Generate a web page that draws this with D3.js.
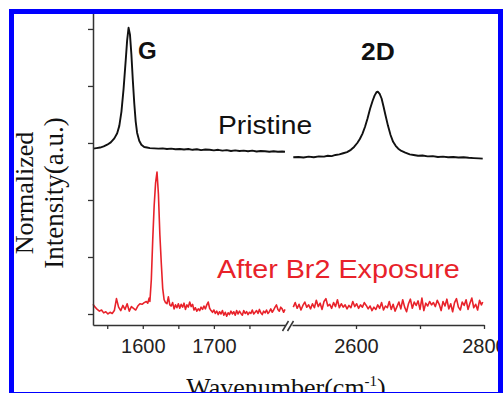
<!DOCTYPE html>
<html>
<head>
<meta charset="utf-8">
<script src="https://cdn.jsdelivr.net/npm/d3@7"></script>
<style>
  body { margin: 0; background: #fff; }
  svg { display: block; }
</style>
</head>
<body>
<div id="chart"></div>
<script>
// spectra, [wavenumber, normalized intensity]
var pristineLow = [
  [1530,2.90],[1535,2.91],[1540,2.92],[1545,2.94],[1550,2.97],[1555,3.01],[1560,3.08],
  [1564,3.17],[1567,3.30],[1570,3.55],[1573,3.95],[1576,4.45],[1578,4.80],[1580,5.02],
  [1582,4.90],[1584,4.55],[1586,4.10],[1588,3.70],[1590,3.38],[1592,3.18],[1595,3.04],
  [1598,2.97],[1602,2.93],[1606,2.92],[1610,2.91],[1616,2.905],[1622,2.90],[1628,2.905],
  [1634,2.895],[1640,2.90],[1646,2.89],[1652,2.895],[1658,2.885],[1664,2.895],[1670,2.88],
  [1676,2.89],[1682,2.875],[1688,2.885],[1694,2.88],[1700,2.87],[1706,2.88],[1712,2.865],
  [1718,2.875],[1724,2.86],[1730,2.87],[1736,2.86],[1742,2.865],[1748,2.855],[1754,2.865],
  [1760,2.85],[1766,2.86],[1772,2.855],[1778,2.845],[1784,2.855],[1790,2.845],[1796,2.85],
  [1800,2.845]
];
var pristineHigh = [
  [2502,2.75],[2510,2.755],[2518,2.745],[2526,2.76],[2534,2.75],[2542,2.765],[2550,2.76],
  [2556,2.775],[2562,2.77],[2568,2.79],[2574,2.80],[2580,2.82],[2586,2.84],[2592,2.88],
  [2597,2.93],[2602,3.00],[2606,3.07],[2610,3.16],[2614,3.28],[2618,3.43],[2622,3.60],
  [2626,3.74],[2629,3.83],[2632,3.89],[2634,3.90],[2637,3.86],[2640,3.78],[2643,3.64],
  [2646,3.49],[2650,3.30],[2654,3.14],[2658,3.02],[2662,2.95],[2666,2.90],[2671,2.86],
  [2677,2.83],[2684,2.80],[2690,2.79],[2697,2.775],[2704,2.78],[2712,2.765],[2720,2.77],
  [2728,2.755],[2736,2.76],[2744,2.75],[2752,2.755],[2760,2.745],[2768,2.75],[2776,2.74],
  [2784,2.735],[2792,2.73],[2798,2.725]
];
var brominatedLow = [
  [1530,0.17],[1533,0.12],[1536,0.08],[1539,0.05],[1542,0.07],[1545,0.02],[1548,0.04],
  [1551,0.00],[1554,0.03],[1557,0.01],[1560,0.06],[1563,0.27],[1566,0.12],[1569,0.06],
  [1572,0.15],[1575,0.08],[1578,0.18],[1581,0.05],[1584,0.13],[1587,0.10],[1590,0.07],
  [1593,0.14],[1596,0.18],[1599,0.17],[1602,0.20],[1605,0.22],[1607,0.19],[1609,0.28],
  [1610,0.22],[1612,0.60],[1614,1.30],[1616,1.90],[1618,2.30],[1620,2.49],[1622,2.10],
  [1624,1.40],[1626,0.90],[1628,0.45],[1630,0.25],[1632,0.20],[1634,0.18],[1636,0.30],
  [1638,0.16],[1640,0.14],[1642,0.20],[1644,0.09],[1646,0.16],[1648,0.11],[1650,0.18],
  [1652,0.10],[1654,0.17],[1656,0.12],[1658,0.19],[1660,0.08],[1662,0.16],[1664,0.12],
  [1666,0.21],[1668,0.13],[1670,0.17],[1672,0.07],[1674,0.11],[1676,0.05],[1678,0.09],
  [1680,0.06],[1682,0.12],[1684,0.08],[1686,0.14],[1688,0.09],[1690,0.16],[1692,0.21],
  [1694,0.10],[1696,0.06],[1698,0.03],[1700,0.07],[1702,0.01],[1704,0.05],[1706,-0.01],
  [1708,0.04],[1710,0.00],[1712,0.06],[1714,-0.02],[1716,0.03],[1718,-0.04],[1720,0.02],
  [1722,-0.01],[1724,0.05],[1726,0.00],[1728,0.04],[1730,-0.02],[1732,0.06],[1734,0.00],
  [1736,0.05],[1738,0.01],[1740,-0.02],[1742,0.06],[1744,0.01],[1746,0.04],[1748,-0.01],
  [1750,0.03],[1752,0.01],[1754,0.07],[1756,0.00],[1758,0.03],[1760,0.06],[1762,0.01],
  [1764,0.08],[1766,0.02],[1768,-0.01],[1770,0.05],[1772,0.02],[1774,0.07],[1776,0.01],
  [1778,0.04],[1780,0.09],[1782,0.03],[1784,0.07],[1786,0.12],[1788,0.16],[1790,0.08],
  [1792,0.05],[1794,0.12],[1796,0.09],[1798,0.03],[1800,0.08]
];
var brominatedHigh = [
  [2502,0.12],[2505,0.20],[2508,0.10],[2511,0.17],[2514,0.07],[2517,0.15],[2520,0.21],
  [2523,0.12],[2526,0.16],[2529,0.09],[2532,0.18],[2535,0.11],[2538,0.24],[2541,0.13],
  [2544,0.19],[2547,0.08],[2550,0.22],[2553,0.27],[2556,0.14],[2559,0.17],[2562,0.10],
  [2565,0.20],[2568,0.13],[2571,0.25],[2574,0.11],[2577,0.18],[2580,0.12],[2583,0.16],
  [2586,0.09],[2589,0.15],[2592,0.11],[2595,0.22],[2598,0.13],[2601,0.18],[2604,0.10],
  [2607,0.16],[2610,0.12],[2613,0.20],[2616,0.15],[2619,0.09],[2622,0.14],[2625,0.06],
  [2628,0.12],[2631,0.08],[2634,0.16],[2637,0.10],[2640,0.20],[2643,0.07],[2646,0.14],
  [2649,0.11],[2652,0.22],[2655,0.08],[2658,0.17],[2661,0.05],[2664,0.13],[2667,0.21],
  [2670,0.09],[2673,0.25],[2676,0.12],[2679,0.04],[2682,0.18],[2685,0.26],[2688,0.10],
  [2691,0.21],[2694,0.15],[2697,0.23],[2700,0.08],[2703,0.28],[2706,0.06],[2709,0.19],
  [2712,0.14],[2715,0.22],[2718,0.16],[2721,0.20],[2724,0.13],[2727,0.24],[2730,0.17],
  [2733,0.06],[2736,0.22],[2739,0.14],[2742,0.26],[2745,0.09],[2748,0.18],[2751,0.04],
  [2754,0.20],[2757,0.27],[2760,0.12],[2763,0.07],[2766,0.21],[2769,0.15],[2772,0.25],
  [2775,0.08],[2778,0.19],[2781,0.28],[2784,0.11],[2787,0.17],[2790,0.07],[2793,0.24],
  [2796,0.16],[2798,0.21]
];

// axis ticks
var lowTicks = [1550, 1600, 1650, 1700, 1750];
var lowLabels = [1600, 1700];
var highTicks = [2600, 2700, 2800];
var highLabels = [2600, 2800];
var yTicks = [0, 1, 2, 3, 4, 5];

var W = 503, H = 393;
var sansFont = 'Arial, "Liberation Sans", Helvetica, sans-serif';
var serifFont = '"Times New Roman", "Liberation Serif", serif';
var black = '#111', red = '#e8222a', axisColor = '#333';

var svg = d3.select('#chart').append('svg')
  .attr('width', W)
  .attr('height', H);

svg.append('rect').attr('width', W).attr('height', H).attr('fill', '#fff');

// broken x axis: two segments with their own scales
var xLow = d3.scaleLinear().domain([1530, 1800]).range([93, 285]);
var xHigh = d3.scaleLinear().domain([2500, 2800]).range([292, 484]);
var y = d3.scaleLinear().domain([-0.193, 5.35]).range([325, 9]);
var axisY = y.range()[0];

function drawSpectrum(data, x, color, width) {
  var line = d3.line()
    .x(function(d) { return x(d[0]); })
    .y(function(d) { return y(d[1]); });
  svg.append('path')
    .datum(data)
    .attr('fill', 'none')
    .attr('stroke', color)
    .attr('stroke-width', width)
    .attr('stroke-linejoin', 'round')
    .attr('d', line);
}

drawSpectrum(brominatedLow, xLow, red, 1.6);
drawSpectrum(brominatedHigh, xHigh, red, 1.6);
drawSpectrum(pristineLow, xLow, black, 1.9);
drawSpectrum(pristineHigh, xHigh, black, 1.9);

function styleAxis(g) {
  g.attr('font-family', sansFont).attr('font-size', 20);
  g.select('.domain').attr('stroke', axisColor).attr('stroke-width', 1.5);
  g.selectAll('.tick line').attr('stroke', axisColor).attr('stroke-width', 1.3);
  g.selectAll('.tick text').attr('fill', '#222');
}

svg.append('g')
  .attr('transform', 'translate(0,' + axisY + ')')
  .call(d3.axisBottom(xLow).tickValues(lowTicks).tickSize(4).tickSizeOuter(0).tickPadding(10)
    .tickFormat(function(d) { return lowLabels.indexOf(d) >= 0 ? d : ''; }))
  .call(styleAxis);

svg.append('g')
  .attr('transform', 'translate(0,' + axisY + ')')
  .call(d3.axisBottom(xHigh).tickValues(highTicks).tickSize(4).tickSizeOuter(0).tickPadding(10)
    .tickFormat(function(d) { return highLabels.indexOf(d) >= 0 ? d : ''; }))
  .call(styleAxis);

svg.append('g')
  .attr('transform', 'translate(' + xLow.range()[0] + ',0)')
  .call(d3.axisLeft(y).tickValues(yTicks).tickSize(5).tickSizeOuter(0).tickFormat(''))
  .call(styleAxis);

// axis break marks
var breakX = (xLow.range()[1] + xHigh.range()[0]) / 2;
[-3, 2].forEach(function(dx) {
  svg.append('line')
    .attr('x1', breakX + dx - 3).attr('y1', axisY + 6)
    .attr('x2', breakX + dx + 3).attr('y2', axisY - 4)
    .attr('stroke', axisColor).attr('stroke-width', 1.5);
});

// annotations (the source figure is a little stretched sideways)
function label(x, yPos, txt, opts) {
  svg.append('text')
    .attr('transform', 'translate(' + x + ',' + yPos + ') scale(' + opts.sx + ',1)')
    .attr('font-family', sansFont)
    .attr('font-size', opts.size)
    .attr('font-weight', opts.bold ? 'bold' : 'normal')
    .attr('fill', opts.color)
    .text(txt);
}
label(138, 59, 'G', {size: 24, bold: true, sx: 1, color: black});
label(361, 60, '2D', {size: 24, bold: true, sx: 1.1, color: black});
label(218, 134, 'Pristine', {size: 25, sx: 1.13, color: black});
label(217, 278, 'After Br2 Exposure', {size: 25, sx: 1.15, color: red});

// axis titles
svg.append('text')
  .attr('transform', 'translate(33,193) rotate(-90)')
  .attr('text-anchor', 'middle')
  .attr('font-family', serifFont).attr('font-size', 26).attr('fill', '#111')
  .text('Normalized');
svg.append('text')
  .attr('transform', 'translate(63,193) rotate(-90)')
  .attr('text-anchor', 'middle')
  .attr('font-family', serifFont).attr('font-size', 27).attr('fill', '#111')
  .text('Intensity(a.u.)');

var xTitle = svg.append('text')
  .attr('x', 286).attr('y', 396)
  .attr('text-anchor', 'middle')
  .attr('font-family', serifFont).attr('font-size', 26).attr('fill', '#111');
xTitle.append('tspan').text('Wavenumber(cm');
xTitle.append('tspan').attr('font-size', 15).attr('dy', -10).text('-1');
xTitle.append('tspan').attr('dy', 10).text(')');

// blue frame on top
svg.append('rect')
  .attr('x', 11.5).attr('y', 11.5)
  .attr('width', 489).attr('height', 383)
  .attr('fill', 'none')
  .attr('stroke', '#0000ff')
  .attr('stroke-width', 5);
</script>
</body>
</html>
